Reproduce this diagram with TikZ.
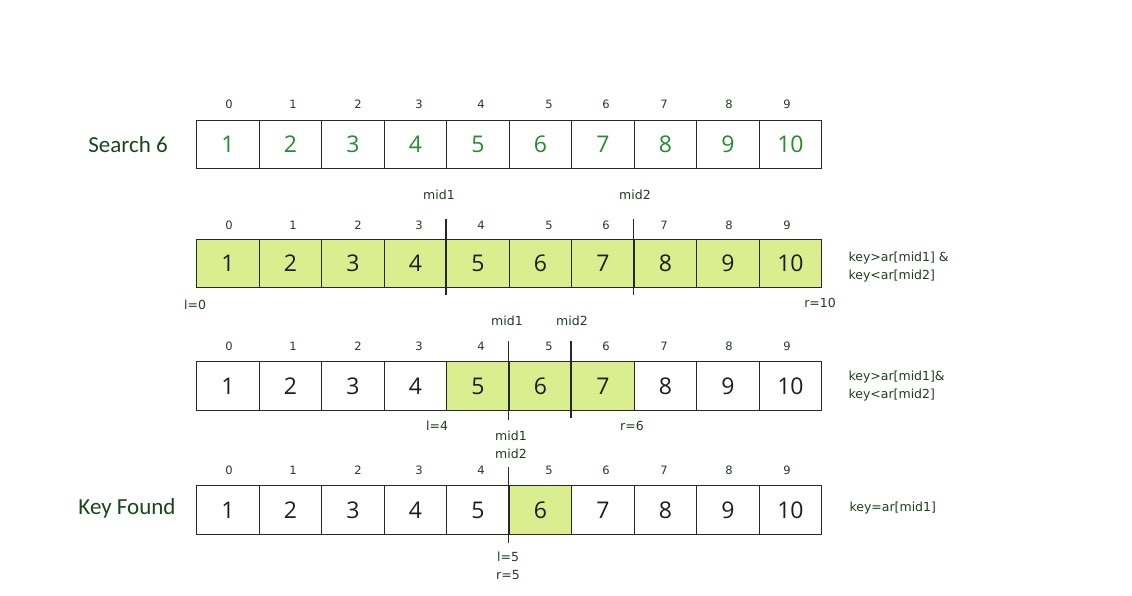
\documentclass[tikz,border=0pt]{standalone}
\usepackage{fontspec}
\setmainfont{Open Sans}
\newfontfamily\smallf{DejaVu Sans}
\newfontfamily\titlef{Carlito}
\definecolor{linec}{RGB}{40,40,40}
\definecolor{hlc}{RGB}{218,238,143}
\definecolor{lblc}{RGB}{35,60,35}
\definecolor{titc}{RGB}{25,70,30}
\definecolor{grn}{RGB}{40,140,50}
\definecolor{valc}{RGB}{30,30,30}
\tikzset{
  cell/.style={draw=linec, line width=1.3pt, minimum width=62.5pt, minimum height=48.5pt,
    inner sep=0pt, anchor=north west, font=\fontsize{23}{26}\selectfont},
  idx/.style={font=\smallf\fontsize{11.5}{13}\selectfont, text=lblc},
  lbl/.style={font=\smallf\fontsize{12.5}{17.5}\selectfont, text=lblc, align=center},
  cond/.style={font=\smallf\fontsize{12.5}{17.5}\selectfont, text=lblc, align=left, anchor=west},
  title/.style={font=\titlef\fontsize{23}{26}\selectfont, text=titc},
  divider/.style={draw=linec, line width=1.2pt},
}
\newcommand\cellrow[5]{% name, top, text colour, highlighted list, index-label y
  \foreach \i in {0,...,9}{%
    \gdef\cellfill{white}%
    \foreach \h in {#4}{\ifnum\i=\h\relax\gdef\cellfill{hlc}\fi}%
    \pgfmathtruncatemacro\v{\i+1}%
    \node[cell, fill=\cellfill, text=#3] (#1c\i) at ({196+62.5*\i},#2) {\v};
  }
  \foreach \i/\ix in {0/229,1/293,2/358,3/419,4/481,5/549,6/606,7/664,8/729,9/787}{%
    \node[idx] (#1i\i) at (\ix,#5) {\i};
  }
}
\begin{document}
\begin{tikzpicture}[x=1pt,y=-1pt]
\useasboundingbox (0,0) rectangle (1132,595);
% row 1
\node[title] (t1) at (128,145) {Search 6};
\cellrow{a}{119.5}{grn}{-1}{104}
% row 2
\cellrow{b}{238.5}{valc}{0,1,2,3,4,5,6,7,8,9}{225}
\node[lbl] (bm1) at (439,195) {mid1};
\node[lbl] (bm2) at (635,195) {mid2};
\coordinate (bd1t) at (446,219); \coordinate (bd1b) at (446,295);
\coordinate (bd2t) at (633.5,219); \coordinate (bd2b) at (633.5,295);
\draw[divider] (bd1t) -- (bd1b);
\draw[divider] (bd2t) -- (bd2b);
\node[lbl] (bl) at (195,305) {l=0};
\node[lbl] (br) at (820,303) {r=10};
\node[cond] (bk) at (845,267) {key>ar[mid1] \&\\key<ar[mid2]};
% row 3
\cellrow{c}{361}{valc}{4,5,6}{346}
\node[lbl] (cm1) at (507,321) {mid1};
\node[lbl] (cm2) at (572,321) {mid2};
\coordinate (cd1t) at (508.5,341); \coordinate (cd1b) at (508.5,420);
\coordinate (cd2t) at (571,341); \coordinate (cd2b) at (571,418);
\draw[divider] (cd1t) -- (cd1b);
\draw[divider] (cd2t) -- (cd2b);
\node[lbl] (cl) at (437,426) {l=4};
\node[lbl] (cr) at (632,426) {r=6};
\node[cond] (ck) at (845,386) {key>ar[mid1]\&\\key<ar[mid2]};
% row 4
\node[title] (t4) at (127,508) {Key Found};
\cellrow{d}{485}{valc}{5}{470}
\node[lbl] (dm) at (511,445) {mid1\\mid2};
\coordinate (ddt) at (508.5,467); \coordinate (ddb) at (508.5,543);
\draw[divider] (ddt) -- (ddb);
\node[lbl] (dlr) at (508,566) {l=5\\r=5};
\node[cond] (dk) at (846,508) {key=ar[mid1]};
\end{tikzpicture}
\end{document}
